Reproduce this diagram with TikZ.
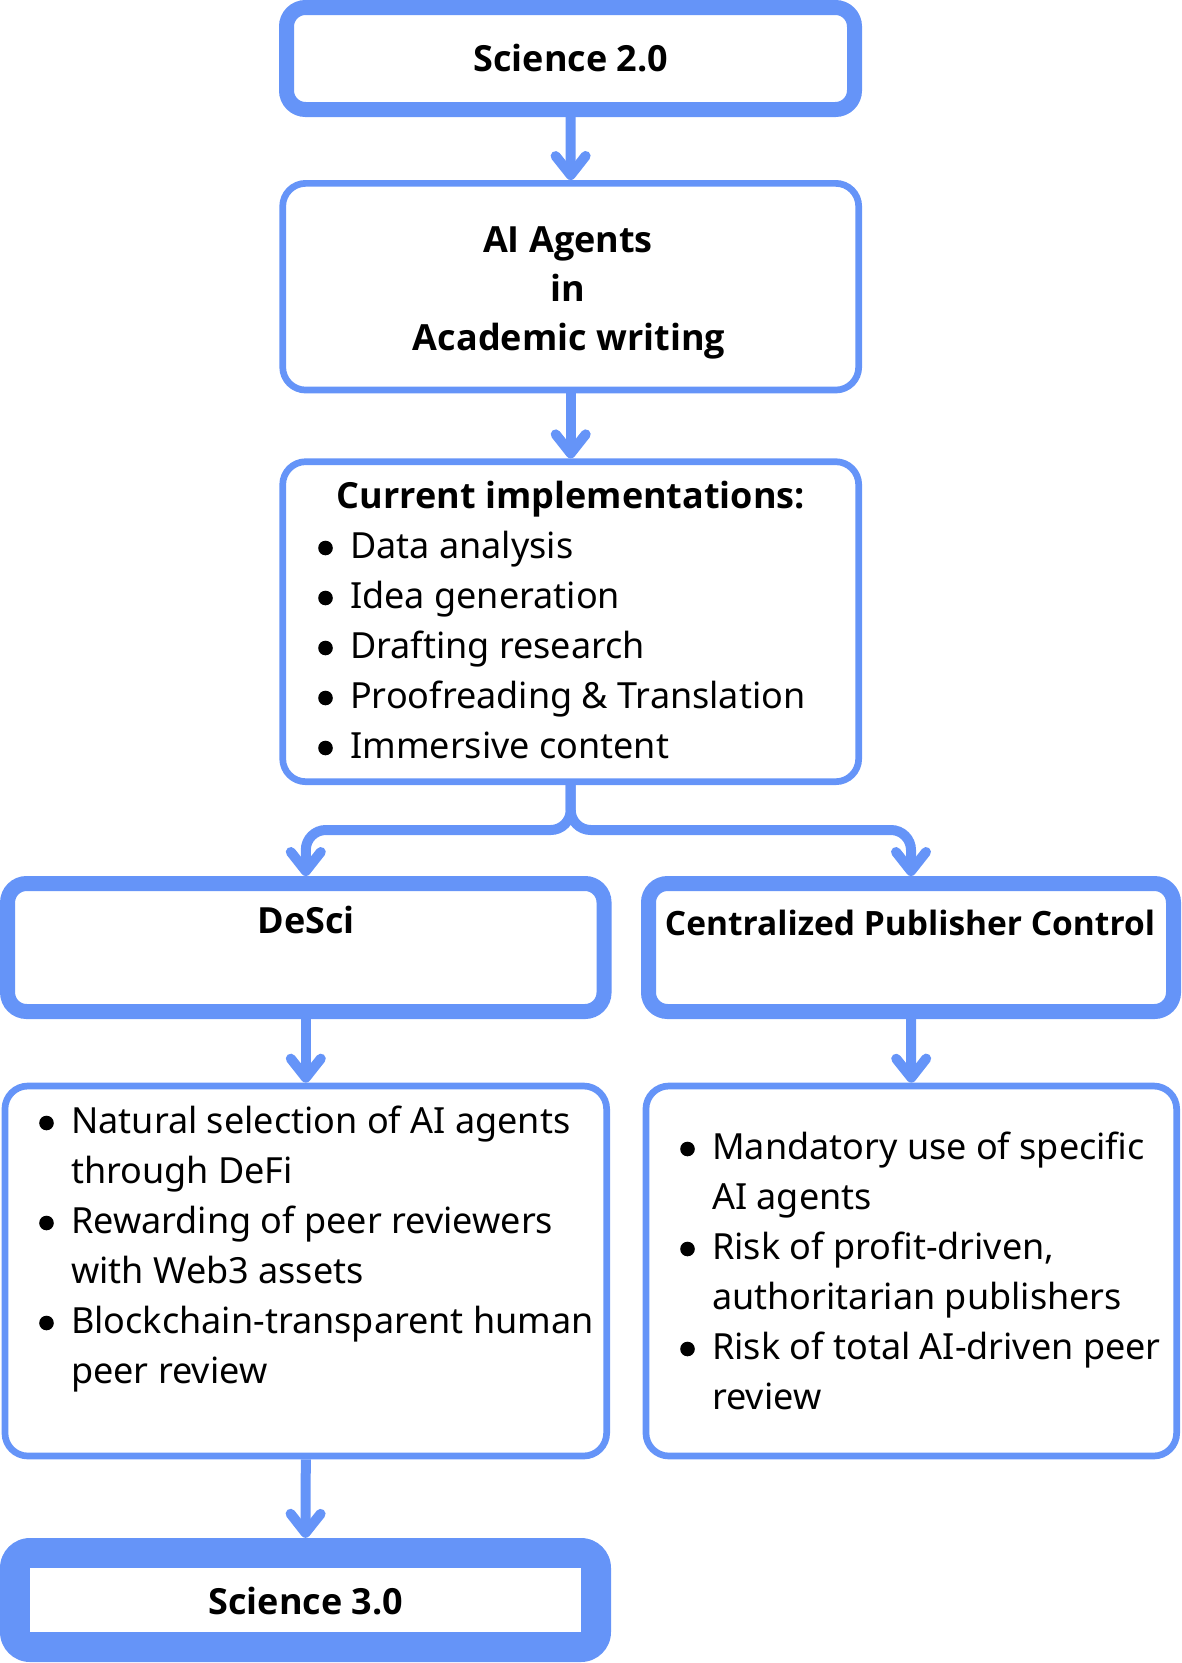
\documentclass[tikz,border=0pt]{standalone}
\usepackage{fontspec}
\setmainfont{Noto Sans}
\newfontfamily\bfam{Open Sans}
\usetikzlibrary{arrows.meta,calc}
\definecolor{blu}{RGB}{101,148,248}
\begin{document}
\begin{tikzpicture}[x=1pt,y=-1pt,
  thickbox/.style={draw=blu, line width=15pt, rounded corners=19pt, fill=white, inner sep=0pt},
  thinbox/.style={draw=blu, line width=6.7pt, rounded corners=23pt, fill=white, inner sep=0pt},
  arr/.style={draw=blu, line width=10pt, -{Straight Barb[length=19pt, width=30pt, round]}},
  ttl/.style={anchor=base, inner sep=0pt, font=\fontsize{36}{50}\selectfont\bfam\bfseries},
  txt/.style={anchor=base west, inner sep=0pt, font=\fontsize{36}{50}\selectfont},
  dot/.style={fill=black}]
\useasboundingbox (0,0) rectangle (1182,1663);

% boxes
\node[thickbox, minimum width=568pt, minimum height=102pt] (sci2) at (570.5,58.5) {};
\node[thinbox, minimum width=576pt, minimum height=206.7pt] (ai) at (570.7,286.7) {};
\node[thinbox, minimum width=576pt, minimum height=320pt] (cur) at (570.7,621.7) {};
\node[thickbox, minimum width=596.5pt, minimum height=128pt] (desci) at (305.8,947.5) {};
\node[thickbox, minimum width=525pt, minimum height=128pt] (cent) at (911,947.5) {};
\node[thinbox, minimum width=601.7pt, minimum height=370pt] (dlist) at (305.8,1271) {};
\node[thinbox, minimum width=530.7pt, minimum height=370pt] (clist) at (911.3,1271) {};
\node[fill=blu, rounded corners=30pt, minimum width=611pt, minimum height=124pt, inner sep=0pt] (sci3) at (305.5,1600) {};
\node[fill=white, minimum width=551pt, minimum height=64pt, inner sep=0pt] (sci3in) at (305.5,1600.3) {};

% titles
\node[ttl] (t1) at (571,71) {Science 2.0};
\node[ttl] (t2a) at (568,252) {AI Agents};
\node[ttl] (t2b) at (568,301) {in};
\node[ttl] (t2c) at (569,350) {Academic writing};
\node[ttl] (t3) at (571,508) {Current implementations:};
\node[ttl] (t4) at (306,933) {DeSci};
\node[ttl, font=\fontsize{33.5}{50}\selectfont\bfam\bfseries] (t5) at (910,935) {Centralized Publisher Control};
\node[ttl] (t6) at (306,1614) {Science 3.0};

% current implementations list
\node[txt] (c1) at (350,558) {Data analysis};
\node[txt] (c2) at (350,608) {Idea generation};
\node[txt] (c3) at (350,658) {Drafting research};
\node[txt] (c4) at (350,708) {Proofreading \& Translation};
\node[txt] (c5) at (350,758) {Immersive content};

% DeSci list
\node[txt] (d1) at (71,1133) {Natural selection of AI agents};
\node[txt] (d2) at (71,1183) {through DeFi};
\node[txt] (d3) at (71,1233) {Rewarding of peer reviewers};
\node[txt] (d4) at (71,1283) {with Web3 assets};
\node[txt] (d5) at (71,1333) {Blockchain-transparent human};
\node[txt] (d6) at (71,1383) {peer review};

% Centralized list
\node[txt] (e1) at (712,1159) {Mandatory use of specific};
\node[txt] (e2) at (712,1209) {AI agents};
\node[txt] (e3) at (712,1259) {Risk of profit-driven,};
\node[txt] (e4) at (712,1309) {authoritarian publishers};
\node[txt] (e5) at (712,1359) {Risk of total AI-driven peer};
\node[txt] (e6) at (712,1409) {review};

% bullets
\foreach \n in {c1,c2,c3,c4,c5,d1,d3,d5,e1,e3,e5}
  \fill[dot] ($(\n.base west)+(-24.5,-10)$) circle (7.3pt);

% connectors
\draw[arr] (sci2.south) -- (ai.north);
\draw[arr] (ai.south) -- (cur.north);
\draw[arr, rounded corners=20pt] (cur.south) |- ($(desci.north)+(0,-46)$) -- (desci.north);
\draw[arr, rounded corners=20pt] (cur.south) |- ($(cent.north)+(0,-46)$) -- (cent.north);
\draw[arr] (desci.south) -- (dlist.north);
\draw[arr] (cent.south) -- (clist.north);
\draw[arr] (dlist.south) -- (sci3.north);
\end{tikzpicture}
\end{document}
